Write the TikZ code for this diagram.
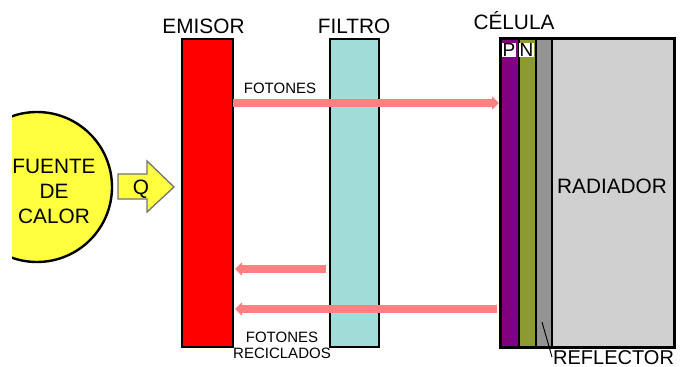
\documentclass[tikz,border=0pt]{standalone}
\usepackage{fontspec}
\setmainfont{Liberation Sans}
\usetikzlibrary{arrows.meta}
\definecolor{redE}{HTML}{FF0000}
\definecolor{filterC}{HTML}{A2DCD9}
\definecolor{purpleP}{HTML}{800080}
\definecolor{oliveN}{HTML}{8C9A30}
\definecolor{reflG}{HTML}{939393}
\definecolor{radG}{HTML}{D0D0D0}
\definecolor{yellowC}{HTML}{FFFF40}
\definecolor{photonC}{HTML}{FF8080}
\tikzset{
  panel/.style={draw=black, line width=2pt, inner sep=0pt, anchor=north west},
  bigtxt/.style={font=\fontsize{20.8}{24}\selectfont, inner sep=0pt, anchor=base},
  smalltxt/.style={font=\fontsize{15}{16}\selectfont, inner sep=0pt, anchor=base},
  photon/.style={draw=photonC, line width=7.5pt, -{Triangle[length=7pt,width=13pt]}},
  letterbox/.style={fill=white, inner sep=0.5pt, font=\fontsize{19}{20}\selectfont}
}
\begin{document}
\begin{tikzpicture}[x=1pt,y=-1pt]
\useasboundingbox (0,0) rectangle (686,367);
% heat source
\begin{scope}
  \clip (12,100) rectangle (130,280);
  \draw[fill=yellowC, line width=2.4pt] (37,187) circle (75);
\end{scope}
\node[bigtxt] (f1) at (54,173) {FUENTE};
\node[bigtxt] (f2) at (54,198) {DE};
\node[bigtxt] (f3) at (54,223) {CALOR};
% Q arrow
\draw[fill=yellowC, draw=gray!90!black, line width=1.3pt, line join=miter]
  (118,174) -- (147,174) -- (147,161) -- (174,187) -- (147,212) -- (147,199) -- (118,199) -- cycle;
\node[bigtxt] (q) at (141,194) {Q};
% emitter
\node[panel, fill=redE, minimum width=51pt, minimum height=308pt] (emisor) at (181,38) {};
\node[bigtxt] (temisor) at (203.5,33) {EMISOR};
% filter
\node[panel, fill=filterC, minimum width=49pt, minimum height=308pt] (filtro) at (329,38) {};
\node[bigtxt] (tfiltro) at (354,33) {FILTRO};
% cell
\node[panel, fill=radG, minimum width=173pt, minimum height=308pt] (celula) at (500,38) {};
\node[panel, fill=purpleP, minimum width=17.5pt, minimum height=308pt] (p) at (500,38) {};
\node[panel, fill=oliveN, minimum width=17.5pt, minimum height=308pt] (n) at (517.5,38) {};
\node[panel, fill=reflG, minimum width=16pt, minimum height=308pt] (refl) at (535,38) {};
\draw[line width=2pt] (celula.north west) rectangle (celula.south east);
\node[letterbox] (lp) at (509,50) {P};
\node[letterbox] (ln) at (526.5,50) {N};
\node[bigtxt] (tcelula) at (514,29) {CÉLULA};
\node[bigtxt] (trad) at (612,193) {RADIADOR};
% reflector label
\node[bigtxt, font=\fontsize{20}{24}\selectfont, anchor=base west] (treflector) at (553,364) {REFLECTOR};
\coordinate (rp) at (542,322);
\coordinate (rt) at (552,357);
\draw[line width=0.9pt] (rp) -- (rt);
% photons
\coordinate (a1s) at (233,103);
\coordinate (a1e) at (499,103);
\coordinate (a2s) at (326,269);
\coordinate (a2e) at (235,269);
\coordinate (a3s) at (497,309);
\coordinate (a3e) at (235,309);
\draw[photon] (a1s) -- (a1e);
\draw[photon] (a2s) -- (a2e);
\draw[photon] (a3s) -- (a3e);
\node[smalltxt] (tfot) at (280,93) {FOTONES};
\node[smalltxt] (tfr1) at (282,342) {FOTONES};
\node[smalltxt] (tfr2) at (282,358) {RECICLADOS};
\end{tikzpicture}
\end{document}
